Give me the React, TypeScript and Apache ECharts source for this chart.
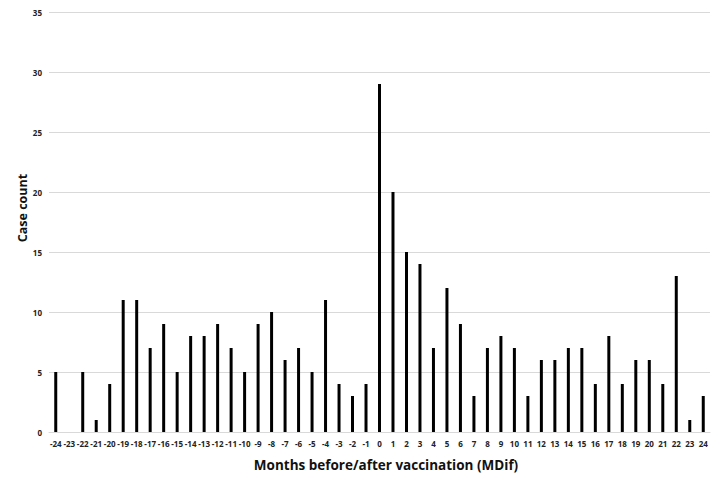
import React, { useEffect, useRef } from "react";
import * as echarts from "echarts";

const months: string[] = [];
for (let m = -24; m <= 24; m++) months.push(String(m));

const caseCounts = [
  5, 0, 5, 1, 4, 11, 11, 7, 9, 5, 8, 8, 9, 7, 5, 9, 10, 6, 7, 5, 11, 4, 3, 4,
  29, 20, 15, 14, 7, 12, 9, 3, 7, 8, 7, 3, 6, 6, 7, 7, 4, 8, 4, 6, 6, 4, 13, 1, 3,
];

const xTitle = "Months before/after vaccination (MDif)";
const yTitle = "Case count";

export default function App() {
  const ref = useRef<HTMLDivElement>(null);
  useEffect(() => {
    if (!ref.current) return;
    const chart = echarts.init(ref.current, null, { renderer: "svg" });
    chart.setOption({
      animation: false,
      backgroundColor: "#ffffff",
      grid: { left: 41, right: 2, top: 1, bottom: 42, containLabel: false },
      xAxis: {
        type: "category",
        data: months,
        axisLine: { show: true, lineStyle: { color: "#d9d9d9" } },
        axisTick: { show: false },
        axisLabel: {
          interval: 0,
          color: "#222",
          fontFamily: "Open Sans",
          fontWeight: "bold",
          fontSize: 8,
          margin: 7,
        },
      },
      yAxis: {
        type: "value",
        min: 0,
        max: 35,
        interval: 5,
        axisLine: { show: false },
        axisTick: { show: false },
        splitLine: { lineStyle: { color: "#d9d9d9", width: 1 } },
        axisLabel: {
          color: "#222",
          fontFamily: "Open Sans",
          fontWeight: "bold",
          fontSize: 8,
          margin: 7,
        },
      },
      graphic: [
        {
          type: "text",
          x: 378,
          y: 457,
          style: {
            text: xTitle,
            fontFamily: "Open Sans",
            fontWeight: "bold",
            fontSize: 13.5,
            fill: "#111",
            align: "center",
            verticalAlign: "middle",
          },
        },
        {
          type: "text",
          x: 14,
          y: 200,
          rotation: Math.PI / 2,
          style: {
            text: yTitle,
            fontFamily: "Open Sans",
            fontWeight: "bold",
            fontSize: 12.5,
            fill: "#111",
            align: "center",
            verticalAlign: "middle",
          },
        },
      ],
      series: [
        {
          type: "bar",
          data: caseCounts,
          barWidth: 3,
          itemStyle: { color: "#000000" },
        },
      ],
    });
    return () => chart.dispose();
  }, []);
  return <div ref={ref} style={{ width: 704, height: 466 }} />;
}
